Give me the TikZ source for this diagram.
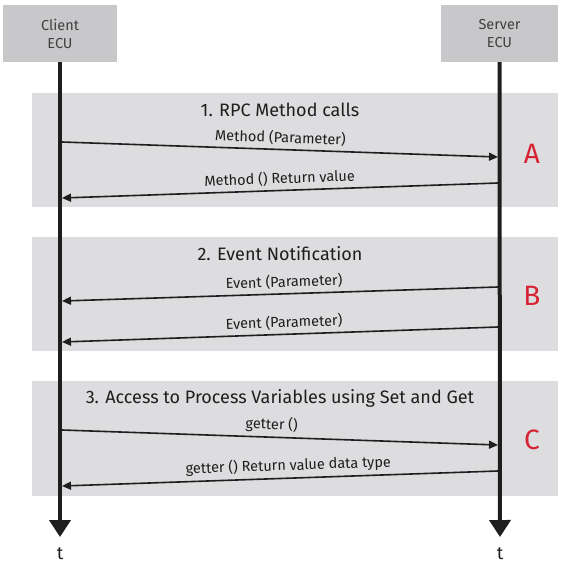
\documentclass[tikz,border=0pt]{standalone}
\usepackage{fontspec}
\setmainfont{Fira Sans}
\usetikzlibrary{arrows.meta}
\definecolor{boxgray}{RGB}{200,200,202}
\definecolor{bandgray}{RGB}{221,221,223}
\definecolor{lettred}{RGB}{214,35,52}
\definecolor{ink}{RGB}{30,30,30}
\begin{document}
\begin{tikzpicture}[x=1pt,y=-1pt,
  hdr/.style={fill=boxgray, minimum width=#1, minimum height=57pt, align=center, font=\fontsize{14.5}{18}\selectfont, text=ink!85, inner sep=0},
  band/.style={fill=bandgray, draw=none},
  title/.style={font=\fontsize{18}{20}\selectfont, text=ink, inner sep=0},
  msg/.style={draw=ink, line width=1.6pt, -{Triangle[length=9pt,width=8pt]}},
  lbl/.style={font=\fontsize{14.5}{16}\selectfont, text=ink, sloped, above, inner sep=4pt},
  tag/.style={font=\fontsize{28}{30}\selectfont, text=lettred, inner sep=0},
  life/.style={draw=ink, line width=4pt, -{Triangle[length=17pt,width=21pt]}},
  tlbl/.style={font=\fontsize{18}{20}\selectfont, text=ink, inner sep=0}
]
\useasboundingbox (0,0) rectangle (564,576);
% bands
\fill[band] (32,93) rectangle (558,207);
\fill[band] (32,237) rectangle (558,351);
\fill[band] (32,381) rectangle (558,496);
% headers
\node[hdr=114pt] (client) at (60,33.5) {Client\\ECU};
\node[hdr=117pt] (server) at (499.5,33.5) {Server\\ECU};
% titles
\node[title] (ta) at (280,110) {1. RPC Method calls};
\node[title] (tb) at (280,254) {2. Event Notification};
\node[title] (tc) at (280,398) {3. Access to Process Variables using Set and Get};
% tags
\node[tag] (la) at (532,154) {A};
\node[tag] (lb) at (532,296) {B};
\node[tag] (lc) at (532,440) {C};
% lifelines
\coordinate (cend) at (60,537);
\coordinate (send) at (500,537);
\draw[life] (client.south) -- (cend);
\draw[life] (server.south) -- (send);
\node[tlbl] (tcl) at (60,554) {t};
\node[tlbl] (tsv) at (500,554) {t};
% message end points
\coordinate (a1s) at (62,142);  \coordinate (a1e) at (498,157);
\coordinate (a2s) at (498,183); \coordinate (a2e) at (62,198);
\coordinate (b1s) at (498,287); \coordinate (b1e) at (62,301);
\coordinate (b2s) at (498,327); \coordinate (b2e) at (62,342);
\coordinate (c1s) at (62,430);  \coordinate (c1e) at (498,445);
\coordinate (c2s) at (498,471); \coordinate (c2e) at (62,486);
% messages
\draw[msg] (a1s) -- node[lbl] {Method (Parameter)} (a1e);
\draw[msg] (a2s) -- node[lbl] {Method () Return value} (a2e);
\draw[msg] (b1s) -- node[lbl, pos=0.49] {Event (Parameter)} (b1e);
\draw[msg] (b2s) -- node[lbl, pos=0.49] {Event (Parameter)} (b2e);
\draw[msg] (c1s) -- node[lbl, pos=0.48] {getter ()} (c1e);
\draw[msg] (c2s) -- node[lbl, pos=0.48] {getter () Return value data type} (c2e);
\end{tikzpicture}
\end{document}
